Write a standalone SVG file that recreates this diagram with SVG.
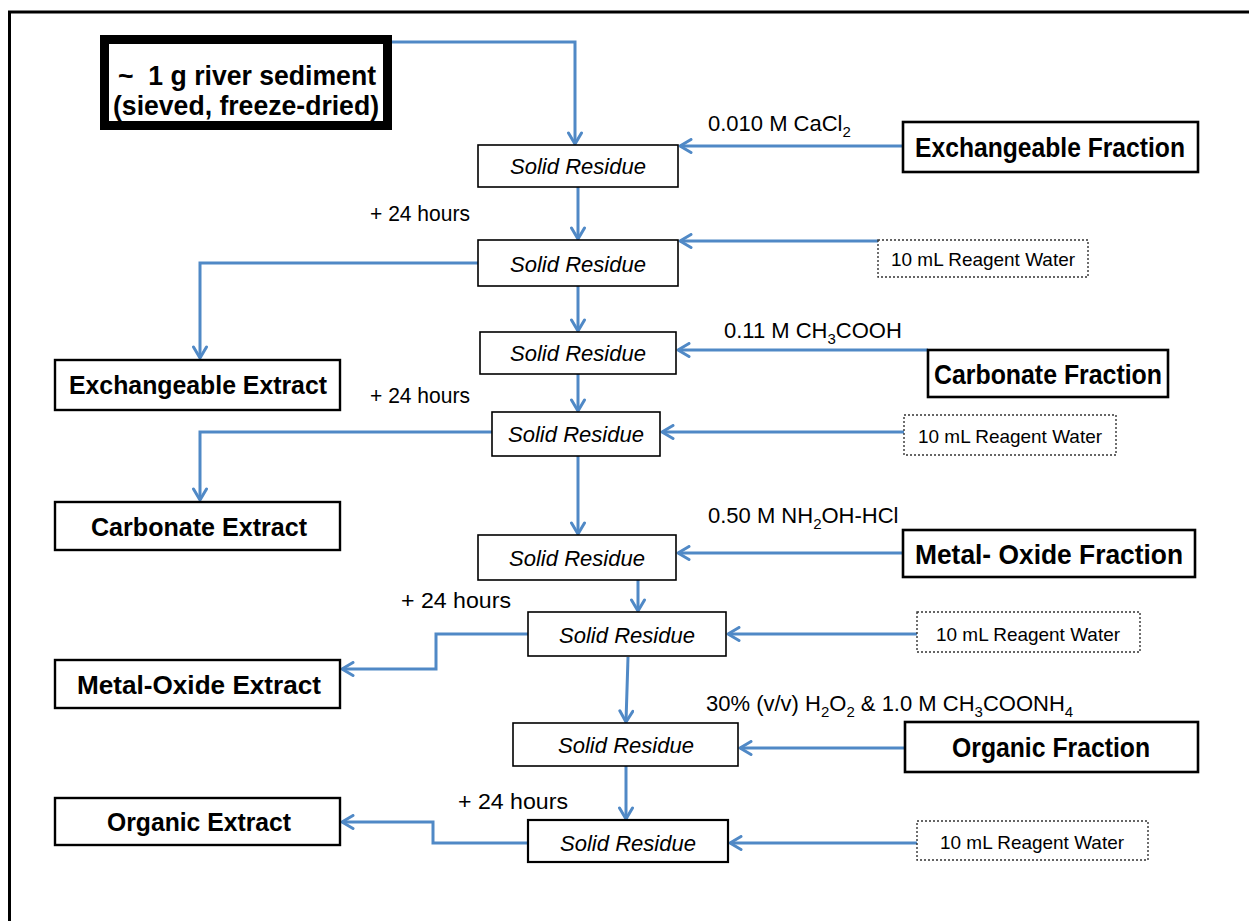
<svg xmlns="http://www.w3.org/2000/svg" width="1249" height="921" viewBox="0 0 1249 921">
<defs>
<marker id="arr" markerUnits="userSpaceOnUse" markerWidth="16" markerHeight="16" viewBox="0 0 16 16" refX="14" refY="8" orient="auto">
<path d="M3,1.5 L14,8 L3,14.5" fill="none" stroke="#5089c6" stroke-width="3" stroke-linecap="round" stroke-linejoin="round"/>
</marker>
</defs>
<style>
text{font-family:"Liberation Sans",Arial,sans-serif;fill:#000}
.sr rect{fill:#fff;stroke:#000;stroke-width:1.6}
.sr text{font-size:22px;font-style:italic;text-anchor:middle}
.fr rect{fill:#fff;stroke:#000;stroke-width:2.6}
.fr text{font-size:28px;font-weight:bold;text-anchor:middle}
.ex rect{fill:#fff;stroke:#000;stroke-width:2.4}
.ex text{font-size:26px;font-weight:bold;text-anchor:middle}
.dw rect{fill:#fff;stroke:#333;stroke-width:1.4;stroke-dasharray:2 2}
.dw text{font-size:19px;text-anchor:middle}
.lbl{font-size:22px}
.sub{font-size:15px}
#connectors path{fill:none;stroke:#5089c6;stroke-width:3;marker-end:url(#arr)}
</style>
<rect x="0" y="0" width="1249" height="921" fill="#fff"/>
<g id="frame">
<line x1="8" y1="12" x2="1249" y2="12" stroke="#000" stroke-width="3"/>
<line x1="9.5" y1="11" x2="9.5" y2="921" stroke="#000" stroke-width="3"/>
</g>

<g id="connectors">
<path d="M392,42 H575 V144"/>
<path d="M903,146 H680"/>
<path d="M578,187 V239"/>
<path d="M878,241 H680"/>
<path d="M478,263 H200 V358"/>
<path d="M578,286 V331"/>
<path d="M928,350 H678"/>
<path d="M578,374 V411"/>
<path d="M904,432 H662"/>
<path d="M492,432 H200 V500"/>
<path d="M578,456 V534"/>
<path d="M903,553 H678"/>
<path d="M638,580 V611"/>
<path d="M917,634 H728"/>
<path d="M528,634 H436 V669 H342"/>
<path d="M628,657 L626,722"/>
<path d="M905,748 H740"/>
<path d="M626,766 V819"/>
<path d="M917,843 H730"/>
<path d="M528,843 H433 V822 H342"/>
</g>

<g id="start">
<rect x="104.5" y="39.5" width="283" height="86" fill="#fff" stroke="#000" stroke-width="9"/>
<text x="247" y="85" font-size="27" font-weight="bold" text-anchor="middle" textLength="258" lengthAdjust="spacingAndGlyphs">~&#160; 1 g river sediment</text>
<text x="246" y="115" font-size="27" font-weight="bold" text-anchor="middle" textLength="266" lengthAdjust="spacingAndGlyphs">(sieved, freeze-dried)</text>
</g>

<g id="sr1" class="sr"><rect x="478" y="145" width="200" height="42"/><text x="578" y="174" textLength="136" lengthAdjust="spacingAndGlyphs">Solid Residue</text></g>
<g id="sr2" class="sr"><rect x="478" y="240" width="200" height="46"/><text x="578" y="272" textLength="136" lengthAdjust="spacingAndGlyphs">Solid Residue</text></g>
<g id="sr3" class="sr"><rect x="480" y="332" width="196" height="42"/><text x="578" y="361" textLength="136" lengthAdjust="spacingAndGlyphs">Solid Residue</text></g>
<g id="sr4" class="sr"><rect x="492" y="412" width="168" height="44"/><text x="576" y="442" textLength="136" lengthAdjust="spacingAndGlyphs">Solid Residue</text></g>
<g id="sr5" class="sr"><rect x="478" y="535" width="198" height="45"/><text x="577" y="566" textLength="136" lengthAdjust="spacingAndGlyphs">Solid Residue</text></g>
<g id="sr6" class="sr"><rect x="528" y="612" width="198" height="44"/><text x="627" y="643" textLength="136" lengthAdjust="spacingAndGlyphs">Solid Residue</text></g>
<g id="sr7" class="sr"><rect x="513" y="723" width="225" height="43"/><text x="626" y="753" textLength="136" lengthAdjust="spacingAndGlyphs">Solid Residue</text></g>
<g id="sr8" class="sr"><rect x="528" y="820" width="200" height="42" style="stroke-width:2.2"/><text x="628" y="851" textLength="136" lengthAdjust="spacingAndGlyphs">Solid Residue</text></g>

<g id="ef" class="fr"><rect x="903" y="122" width="295" height="50"/><text x="1050" y="157" textLength="270" lengthAdjust="spacingAndGlyphs">Exchangeable Fraction</text></g>
<g id="cf" class="fr"><rect x="928" y="350" width="240" height="47"/><text x="1048" y="384" textLength="228" lengthAdjust="spacingAndGlyphs">Carbonate Fraction</text></g>
<g id="mof" class="fr"><rect x="903" y="530" width="292" height="47"/><text x="1049" y="564" textLength="268" lengthAdjust="spacingAndGlyphs">Metal- Oxide Fraction</text></g>
<g id="of" class="fr"><rect x="905" y="722" width="293" height="50"/><text x="1051" y="757" textLength="198" lengthAdjust="spacingAndGlyphs">Organic Fraction</text></g>

<g id="ee" class="ex"><rect x="55" y="360" width="285" height="50"/><text x="198" y="394" textLength="258" lengthAdjust="spacingAndGlyphs">Exchangeable Extract</text></g>
<g id="ce" class="ex"><rect x="55" y="502" width="285" height="48"/><text x="199" y="536" textLength="216" lengthAdjust="spacingAndGlyphs">Carbonate Extract</text></g>
<g id="moe" class="ex"><rect x="55" y="660" width="285" height="48"/><text x="199" y="694" textLength="244" lengthAdjust="spacingAndGlyphs">Metal-Oxide Extract</text></g>
<g id="oe" class="ex"><rect x="55" y="798" width="285" height="47"/><text x="199" y="831" textLength="184" lengthAdjust="spacingAndGlyphs">Organic Extract</text></g>

<g id="dw1" class="dw"><rect x="878" y="240" width="210" height="37"/><text x="983" y="266" textLength="184" lengthAdjust="spacingAndGlyphs">10 mL Reagent Water</text></g>
<g id="dw2" class="dw"><rect x="904" y="415" width="212" height="40"/><text x="1010" y="443" textLength="184" lengthAdjust="spacingAndGlyphs">10 mL Reagent Water</text></g>
<g id="dw3" class="dw"><rect x="917" y="612" width="223" height="40"/><text x="1028" y="641" textLength="184" lengthAdjust="spacingAndGlyphs">10 mL Reagent Water</text></g>
<g id="dw4" class="dw"><rect x="917" y="821" width="231" height="39"/><text x="1032" y="849" textLength="184" lengthAdjust="spacingAndGlyphs">10 mL Reagent Water</text></g>

<g id="labels">
<text class="lbl" x="370" y="221" textLength="100" lengthAdjust="spacingAndGlyphs">+ 24 hours</text>
<text class="lbl" x="370" y="403" textLength="100" lengthAdjust="spacingAndGlyphs">+ 24 hours</text>
<text class="lbl" x="401" y="608" textLength="110" lengthAdjust="spacingAndGlyphs">+ 24 hours</text>
<text class="lbl" x="458" y="809" textLength="110" lengthAdjust="spacingAndGlyphs">+ 24 hours</text>
<text class="lbl" x="708" y="131">0.010 M CaCl<tspan class="sub" dy="6">2</tspan></text>
<text class="lbl" x="724" y="338">0.11 M CH<tspan class="sub" dy="6">3</tspan><tspan dy="-6">COOH</tspan></text>
<text class="lbl" x="708" y="523">0.50 M NH<tspan class="sub" dy="6">2</tspan><tspan dy="-6">OH-HCl</tspan></text>
<text class="lbl" x="706" y="711">30% (v/v) H<tspan class="sub" dy="6">2</tspan><tspan dy="-6">O</tspan><tspan class="sub" dy="6">2</tspan><tspan dy="-6"> &amp; 1.0 M CH</tspan><tspan class="sub" dy="6">3</tspan><tspan dy="-6">COONH</tspan><tspan class="sub" dy="6">4</tspan></text>
</g>
</svg>
